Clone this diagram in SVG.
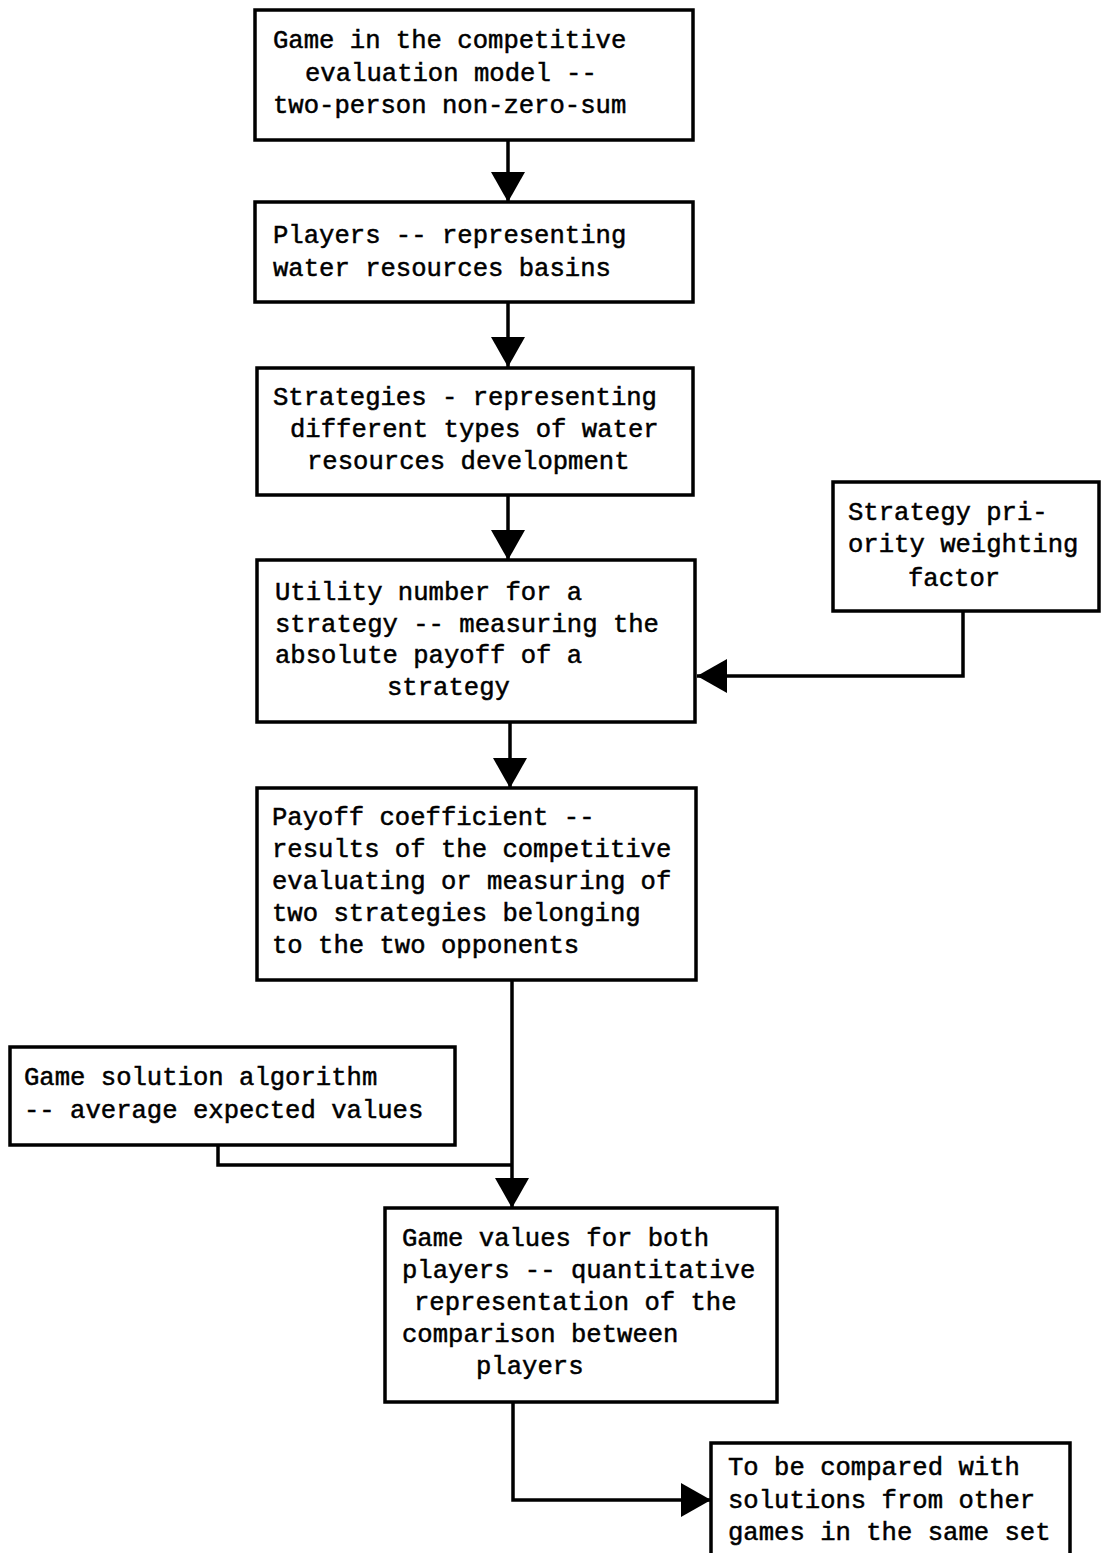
<svg xmlns="http://www.w3.org/2000/svg" width="1101" height="1553" viewBox="0 0 1101 1553">
<style>
.box{fill:#fff;stroke:#000;stroke-width:3.5}
.t{font-family:"Liberation Mono","Courier New",monospace;font-size:25.6px;fill:#000;stroke:#000;stroke-width:0.5}
.c{fill:none;stroke:#000;stroke-width:3.5}
</style>
<defs>
<marker id="ah" viewBox="0 0 30 34" refX="30" refY="17" markerWidth="30" markerHeight="34" markerUnits="userSpaceOnUse" orient="auto">
<path d="M0,0 L30,17 L0,34 Z" fill="#000"/>
</marker>
</defs>
<rect width="1101" height="1553" fill="#fff"/>
<g id="connectors">
<path class="c" d="M508,140 V202" marker-end="url(#ah)"/>
<path class="c" d="M508,302 V367" marker-end="url(#ah)"/>
<path class="c" d="M508,495 V560" marker-end="url(#ah)"/>
<path class="c" d="M510,722 V788" marker-end="url(#ah)"/>
<path class="c" d="M963,611 V676 H697" marker-end="url(#ah)"/>
<path class="c" d="M512,980 V1208" marker-end="url(#ah)"/>
<path class="c" d="M218,1145 V1165 H512"/>
<path class="c" d="M513,1402 V1500 H711" marker-end="url(#ah)"/>
</g>
<g id="node-game">
<rect class="box" x="255" y="10" width="438" height="130"/>
<text class="t" x="273" y="48">Game in the competitive</text>
<text class="t" x="305" y="81">evaluation model --</text>
<text class="t" x="273" y="113">two-person non-zero-sum</text>
</g>
<g id="node-players">
<rect class="box" x="255" y="202" width="438" height="100"/>
<text class="t" x="273" y="243">Players -- representing</text>
<text class="t" x="273" y="276">water resources basins</text>
</g>
<g id="node-strategies">
<rect class="box" x="257" y="368" width="436" height="127"/>
<text class="t" x="273" y="405">Strategies - representing</text>
<text class="t" x="290" y="437">different types of water</text>
<text class="t" x="307" y="469">resources development</text>
</g>
<g id="node-utility">
<rect class="box" x="257" y="560" width="438" height="162"/>
<text class="t" x="275" y="600">Utility number for a</text>
<text class="t" x="275" y="632">strategy -- measuring the</text>
<text class="t" x="275" y="663">absolute payoff of a</text>
<text class="t" x="387" y="695">strategy</text>
</g>
<g id="node-priority">
<rect class="box" x="833" y="482" width="266" height="129"/>
<text class="t" x="848" y="520">Strategy pri-</text>
<text class="t" x="848" y="552">ority weighting</text>
<text class="t" x="908" y="586">factor</text>
</g>
<g id="node-payoff">
<rect class="box" x="257" y="788" width="439" height="192"/>
<text class="t" x="272" y="825">Payoff coefficient --</text>
<text class="t" x="272" y="857">results of the competitive</text>
<text class="t" x="272" y="889">evaluating or measuring of</text>
<text class="t" x="272" y="921">two strategies belonging</text>
<text class="t" x="272" y="953">to the two opponents</text>
</g>
<g id="node-algorithm">
<rect class="box" x="10" y="1047" width="445" height="98"/>
<text class="t" x="24" y="1085">Game solution algorithm</text>
<text class="t" x="24" y="1118">-- average expected values</text>
</g>
<g id="node-values">
<rect class="box" x="385" y="1208" width="392" height="194"/>
<text class="t" x="402" y="1246">Game values for both</text>
<text class="t" x="402" y="1278">players -- quantitative</text>
<text class="t" x="414" y="1310">representation of the</text>
<text class="t" x="402" y="1342">comparison between</text>
<text class="t" x="476" y="1374">players</text>
</g>
<g id="node-compare">
<rect class="box" x="711" y="1443" width="359" height="150"/>
<text class="t" x="728" y="1475">To be compared with</text>
<text class="t" x="728" y="1508">solutions from other</text>
<text class="t" x="728" y="1540">games in the same set</text>
</g>
</svg>
